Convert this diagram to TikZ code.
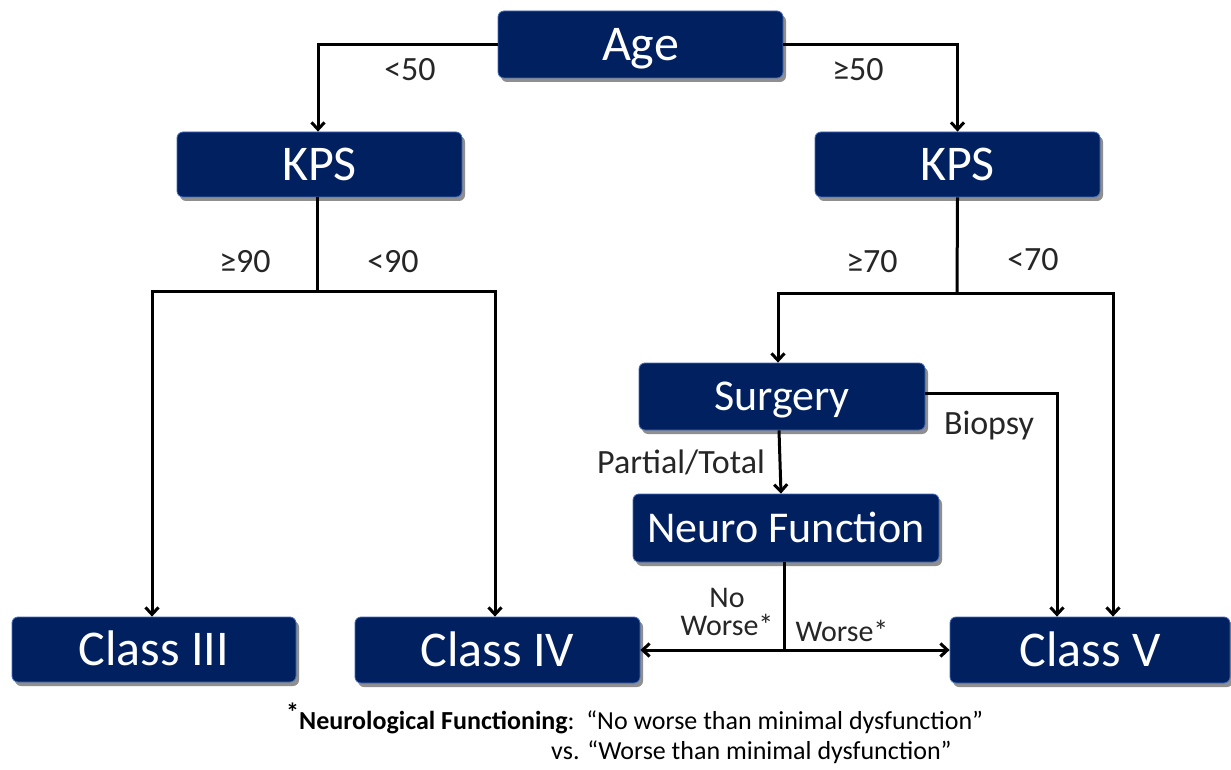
\documentclass[tikz,border=0pt]{standalone}
\usepackage{fontspec}
\setmainfont{Carlito}
\usetikzlibrary{shadows,arrows.meta}
\definecolor{navy}{RGB}{0,32,96}
\definecolor{edgeblue}{RGB}{70,110,185}
\begin{document}
\begin{tikzpicture}[x=1pt,y=-1pt,
  box/.style={fill=navy,draw=edgeblue,line width=0.8pt,rounded corners=6pt,
    text=white,inner sep=0pt,
    drop shadow={shadow xshift=3pt,shadow yshift=-4pt,opacity=0.55,fill=black!80}},
  big/.style={font=\fontsize{50}{52}\selectfont,text height=32pt,text depth=0pt},
  mid/.style={font=\fontsize{44}{46}\selectfont,text height=28pt,text depth=0pt},
  lbl/.style={font=\fontsize{34}{36}\selectfont,text=black!85,inner sep=0pt},
  sml/.style={font=\fontsize{30}{28}\selectfont,text=black!85,inner sep=0pt},
  conn/.style={line width=3pt,draw=black},
  arr/.style={conn,-{Straight Barb[length=7pt,width=13pt,line width=3pt]}}]
\useasboundingbox (0,0) rectangle (1231,770);
\fill[white] (0,0) rectangle (1231,770);
% boxes
\node[box,big,minimum width=285pt,minimum height=67pt] (age) at (640.5,44.5) {Age};
\node[box,big,minimum width=285pt,minimum height=65pt] (kpsl) at (319.5,164.5) {KPS};
\node[box,big,minimum width=285pt,minimum height=65pt] (kpsr) at (957.5,164.5) {KPS};
\node[box,mid,minimum width=286pt,minimum height=67pt] (surg) at (782,396.5) {Surgery};
\node[box,mid,minimum width=306pt,minimum height=68pt] (neuro) at (786,528) {Neuro Function};
\node[box,big,minimum width=284pt,minimum height=65pt] (c3) at (154,649.5) {Class III};
\node[box,big,minimum width=285pt,minimum height=66pt] (c4) at (497.5,650) {Class IV};
\node[box,big,minimum width=280pt,minimum height=66pt] (c5) at (1090,650) {Class V};
% junction coordinates
\coordinate (jl) at (317,291);
\coordinate (jr) at (957,293);
\coordinate (jn) at (784,650);
% connectors
\draw[arr] (age.west) -| (kpsl.north -| 318,0);
\draw[arr] (age.east) -| (kpsr.north);
\draw[conn] (kpsl.south -| jl) -- (jl);
\draw[arr] (jl) -| (c3.north -| 152,0);
\draw[arr] (jl) -| (c4.north -| 495,0);
\draw[conn] (kpsr.south) -- (jr);
\draw[arr] (jr) -| (surg.north -| 778,0);
\draw[arr] (jr) -| (c5.north -| 1113,0);
\draw[arr] (surg.east |- 0,393) -| (c5.north -| 1057,0);
\draw[arr] (surg.south -| 779,0) -- (neuro.north -| 781,0);
\draw[conn] (neuro.south -| jn) -- (jn);
\draw[arr] (jn) -- (c4.east);
\draw[arr] (jn) -- (c5.west);
% labels
\node[lbl] (l1) at (410,70) {<50};
\node[lbl] (l2) at (858,70) {≥50};
\node[lbl] (l3) at (245,262) {≥90};
\node[lbl] (l4) at (393,262) {<90};
\node[lbl] (l5) at (872,262) {≥70};
\node[lbl] (l6) at (1033,260) {<70};
\node[lbl] (l7) at (989,426) {Biopsy};
\node[lbl] (l8) at (681,462) {Partial/Total};
\node[sml,align=center] (l9) at (727,612) {No\\Worse*};
\node[sml] (l10) at (842,631) {Worse*};
% footnote
\node[anchor=base west,inner sep=0pt,font=\fontsize{26}{28}\selectfont] (fn1) at (286,729)
  {\raisebox{0.3em}{\textbf{*}}\textbf{Neurological Functioning}:\ \ “No worse than minimal dysfunction”};
\node[anchor=base west,inner sep=0pt,font=\fontsize{26}{28}\selectfont] (fn2) at (551,759)
  {vs. “Worse than minimal dysfunction”};
\end{tikzpicture}
\end{document}
